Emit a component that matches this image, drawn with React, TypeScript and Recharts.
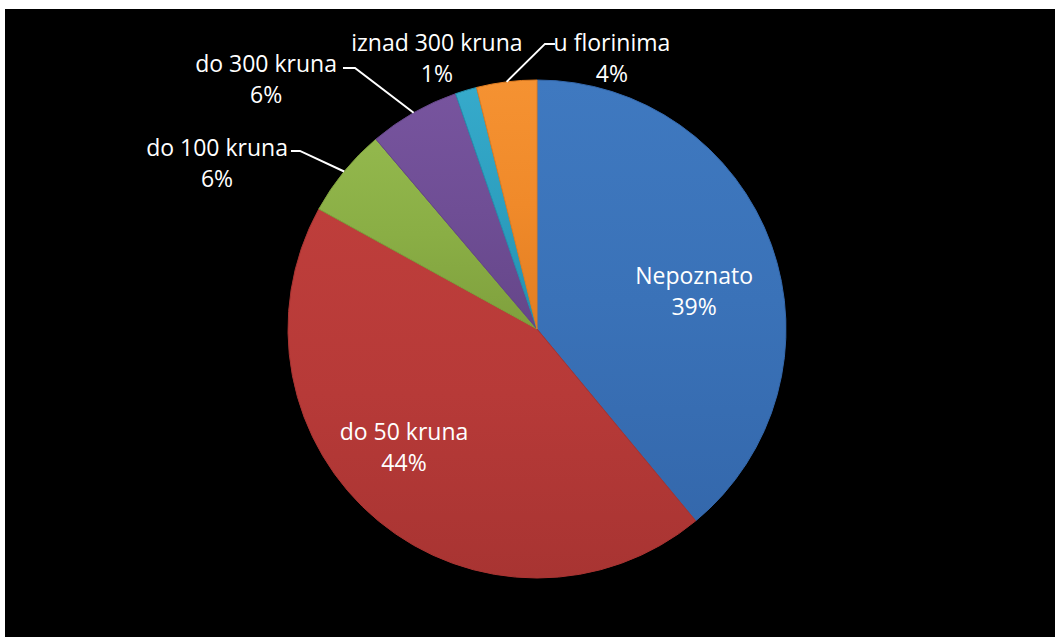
import React from "react";
import { PieChart, Pie, Cell } from "recharts";

const categories = ["Nepoznato", "do 50 kruna", "do 100 kruna", "do 300 kruna", "iznad 300 kruna", "u florinima"];
const shares = [39, 44, 5.8, 5.9, 1.4, 3.9];
const colors = ["#3A72B8", "#B73A38", "#8AAE45", "#6F4E95", "#2D9FBF", "#F08A2A"];
const lightColors = ["#3F79C0", "#BE3E3B", "#93B84D", "#77549E", "#36AACB", "#F59232"];
const darkColors = ["#3468AC", "#A83432", "#7FA03D", "#654689", "#2590B0", "#E27E22"];

const data = categories.map((name, i) => ({ name, value: shares[i] }));

// label placement hints, in units of the pie radius relative to its centre
const labelLayout = [
  { inside: true, tx: 0.631, ty: -0.217 },
  { inside: true, tx: -0.534, ty: 0.41 },
  { tx: -1.285, ty: -0.731, ex: -0.952, ey: -0.715, endDx: -9 },
  { tx: -1.088, ty: -1.068, ex: -0.731, ey: -1.048, endDx: -12 },
  { tx: -0.402, ty: -1.153 },
  { tx: 0.301, ty: -1.153, ex: 0.032, ey: -1.145, endDx: 10 },
];

const RAD = Math.PI / 180;
const FONT = "'Open Sans', sans-serif";

const renderLabel = (props: any) => {
  const { cx, cy, outerRadius, midAngle, index, percent, name } = props;
  const L = labelLayout[index];
  const r = outerRadius;
  const tx = cx + L.tx * r;
  const ty = cy + L.ty * r;
  const pct = Math.round(percent * 100) + "%";
  const lineGap = 31;
  let leader = null;
  if (L.ex !== undefined) {
    const sx = cx + r * Math.cos(-midAngle * RAD);
    const sy = cy + r * Math.sin(-midAngle * RAD);
    const ex = cx + L.ex * r;
    const ey = cy + L.ey * r;
    leader = (
      <polyline
        points={`${sx},${sy} ${ex},${ey} ${ex + L.endDx},${ey}`}
        fill="none"
        stroke="#FFFFFF"
        strokeWidth={2}
      />
    );
  }
  return (
    <g key={`lbl-${index}`}>
      {leader}
      <text x={tx} y={ty} fill="#FFFFFF" textAnchor="middle" dominantBaseline="central" fontFamily={FONT} fontSize={23}>
        {name}
      </text>
      <text x={tx} y={ty + lineGap} fill="#FFFFFF" textAnchor="middle" dominantBaseline="central" fontFamily={FONT} fontSize={23}>
        {pct}
      </text>
    </g>
  );
};

export default function App() {
  return (
    <div style={{ position: "absolute", left: 0, top: 0, width: 1055, height: 637, background: "#FFFFFF", overflow: "hidden" }}>
      <div style={{ position: "absolute", left: 5, top: 9, width: 1050, height: 628, background: "#000000" }}>
        <PieChart width={1050} height={628} margin={{ top: 0, right: 0, bottom: 0, left: 0 }}>
          <defs>
            {colors.map((c, i) => (
              <linearGradient key={i} id={`g${i}`} x1="0" y1="0" x2="0" y2="1">
                <stop offset="0%" stopColor={lightColors[i]} />
                <stop offset="50%" stopColor={c} />
                <stop offset="100%" stopColor={darkColors[i]} />
              </linearGradient>
            ))}
          </defs>
          <Pie
            data={data}
            dataKey="value"
            nameKey="name"
            cx={532}
            cy={320}
            outerRadius={249}
            startAngle={90}
            endAngle={-270}
            isAnimationActive={false}
            label={renderLabel}
            labelLine={false}
          >
            {data.map((d, i) => (
              <Cell key={d.name} fill={`url(#g${i})`} stroke={darkColors[i]} strokeWidth={1} />
            ))}
          </Pie>
        </PieChart>
      </div>
    </div>
  );
}
